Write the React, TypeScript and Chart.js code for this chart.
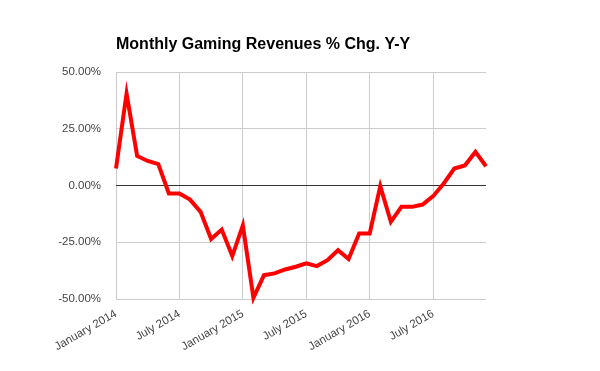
import React, { useEffect, useRef } from 'react';
import { Chart, registerables } from 'chart.js';

Chart.register(...registerables);

const TITLE = 'Monthly Gaming Revenues % Chg. Y-Y';

const MONTH_NAMES = [
  'January', 'February', 'March', 'April', 'May', 'June',
  'July', 'August', 'September', 'October', 'November', 'December',
];
const YEARS = [2014, 2015, 2016];
const categories: string[] = YEARS.flatMap((y) => MONTH_NAMES.map((m) => `${m} ${y}`));

// % change year over year
const values = [
  7.5, 40.5, 13.0, 10.8, 9.4, -3.5, -3.5, -6.2, -11.6, -23.6, -19.4, -31.1,
  -17.6, -49.5, -39.5, -38.7, -37.0, -35.8, -34.3, -35.5, -32.9, -28.5, -32.4, -21.1,
  -21.1, -0.3, -16.0, -9.4, -9.4, -8.4, -4.7, 0.9, 7.5, 8.8, 14.8, 8.5,
];

const yTicks = [-50, -25, 0, 25, 50];
const LABEL_EVERY = 6;

const FONT = '"Liberation Sans", Arial, sans-serif';

export default function App() {
  const ref = useRef<HTMLCanvasElement | null>(null);

  useEffect(() => {
    if (!ref.current) return;
    const titlePlugin = {
      id: 'leftTitle',
      afterDraw(chart: any) {
        const { ctx, chartArea } = chart;
        ctx.save();
        ctx.font = `bold 16px ${FONT}`;
        ctx.fillStyle = '#000';
        ctx.textBaseline = 'middle';
        ctx.textAlign = 'left';
        ctx.fillText(TITLE, chartArea.left, 45);
        ctx.restore();
      },
    };
    const chart = new Chart(ref.current, {
      type: 'line',
      data: {
        labels: categories,
        datasets: [
          {
            data: values,
            borderColor: '#ff0000',
            borderWidth: 4,
            pointRadius: 0,
            tension: 0,
            fill: false,
            clip: false as any,
          },
        ],
      },
      options: {
        responsive: false,
        animation: false,
        layout: { padding: { top: 72, right: 114, left: 0, bottom: 0 } },
        plugins: {
          legend: { display: false },
          title: { display: false },
          tooltip: { enabled: false },
        },
        scales: {
          x: {
            grid: {
              color: (c: any) => (c.index % LABEL_EVERY === 0 ? '#cccccc' : 'rgba(0,0,0,0)'),
              drawTicks: false,
            },
            border: { display: false },
            ticks: {
              autoSkip: false,
              maxRotation: 30,
              minRotation: 30,
              padding: 8,
              color: '#444444',
              font: { family: FONT, size: 11.5 },
              callback: (_v: any, i: number) => (i % LABEL_EVERY === 0 ? categories[i] : ''),
            },
            afterFit: (s: any) => {
              s.height = 72;
            },
          },
          y: {
            min: yTicks[0],
            max: yTicks[yTicks.length - 1],
            afterBuildTicks: (s: any) => {
              s.ticks = yTicks.map((v) => ({ value: v }));
            },
            grid: {
              color: (c: any) => (c.tick && c.tick.value === 0 ? '#333333' : '#cccccc'),
              drawTicks: false,
            },
            border: { display: false },
            ticks: {
              padding: 15,
              color: '#444444',
              font: { family: FONT, size: 11.5 },
              callback: (v: any) => `${Number(v).toFixed(2)}%`,
            },
            afterFit: (s: any) => {
              s.width = 116;
            },
          },
        },
      },
      plugins: [titlePlugin],
    });
    return () => chart.destroy();
  }, []);

  return (
    <div style={{ position: 'fixed', left: 0, top: 0, width: 600, height: 371, background: '#fff' }}>
      <canvas ref={ref} width={600} height={371} style={{ width: 600, height: 371 }} />
    </div>
  );
}
